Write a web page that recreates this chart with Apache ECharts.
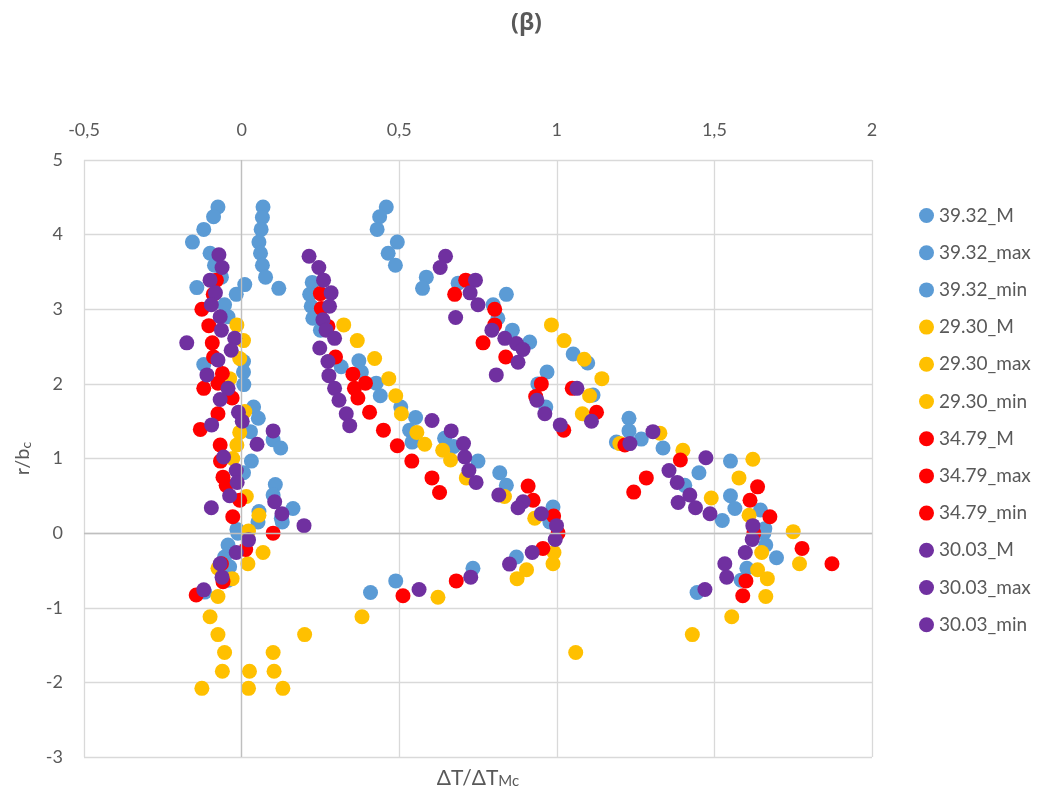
<!DOCTYPE html>
<html>
<head>
<meta charset="utf-8">
<script src="https://cdn.jsdelivr.net/npm/echarts@6/dist/echarts.min.js"></script>
<style>html,body{margin:0;padding:0;background:#fff}#c{width:1053px;height:798px}</style>
</head>
<body>
<div id="c"></div>
<script>
// ---- data: [ΔT/ΔT_Mc, r/b_c] pairs ----
const seriesNames = ['39.32_M','39.32_max','39.32_min','29.30_M','29.30_max','29.30_min','34.79_M','34.79_max','34.79_min','30.03_M','30.03_max','30.03_min'];

const blue_M = [[0.068,4.37],[0.066,4.23],[0.062,4.07],[0.055,3.90],[0.060,3.75],[0.066,3.59],[0.076,3.43],[0.118,3.28],
 [0.224,3.36],[0.216,3.20],[0.221,3.04],[0.226,2.88],[0.25,2.72],[0.316,2.23],[0.372,2.31],[0.38,2.16],[0.427,2.01],
 [0.44,1.84],[0.505,1.69],[0.552,1.55],[0.533,1.38],[0.541,1.22],[0.644,1.27],[0.673,1.16],[0.75,0.965],[0.819,0.81],
 [0.84,0.64],[0.988,0.35],[0.978,0.15],[0.872,-0.32],[0.734,-0.47],[0.489,-0.64],[0.409,-0.795]];
const blue_max = [[0.459,4.37],[0.438,4.24],[0.43,4.07],[0.494,3.90],[0.465,3.75],[0.488,3.59],[0.586,3.43],[0.574,3.28],
 [0.687,3.35],[0.798,3.06],[0.84,3.2],[0.813,2.88],[0.859,2.72],[0.914,2.56],[1.052,2.40],[1.098,2.28],[0.969,2.16],
 [0.94,2.0],[0.965,1.69],[1.115,1.85],[1.229,1.54],[1.229,1.37],[1.268,1.26],[1.189,1.22],[1.337,1.14],[1.551,0.965],
 [1.451,0.81],[1.406,0.64],[1.551,0.50],[1.565,0.33],[1.646,0.31],[1.525,0.17],[1.66,0.06],[1.657,0.0],[1.663,-0.16],
 [1.697,-0.33],[1.603,-0.47],[1.585,-0.63],[1.445,-0.795]];
const blue_min = [[-0.075,4.37],[-0.089,4.24],[-0.12,4.07],[-0.156,3.90],[-0.10,3.75],[-0.086,3.59],[-0.064,3.43],
 [-0.142,3.29],[-0.017,3.20],[0.010,3.33],[-0.054,3.06],[-0.043,2.90],[-0.12,2.26],[0.006,2.30],[0.006,2.16],[0.007,1.99],
 [0.038,1.69],[0.053,1.54],[0.028,1.36],[0.10,1.25],[0.124,1.14],[0.031,0.965],[0.006,0.81],[0.107,0.65],[0.10,0.51],
 [0.163,0.33],[0.055,0.29],[0.126,0.20],[0.052,0.15],[0.129,0.15],[-0.015,0.05],[-0.012,0.0],[-0.043,-0.16],
 [-0.054,-0.32],[-0.038,-0.45],[-0.043,-0.63],[-0.117,-0.79]];

const gold_M = [[0.324,2.79],[0.367,2.58],[0.422,2.34],[0.467,2.07],[0.489,1.84],[0.507,1.60],[0.556,1.35],[0.581,1.19],
 [0.638,1.11],[0.663,0.98],[0.713,0.74],[0.834,0.49],[0.93,0.2],[0.991,-0.26],[0.988,-0.41],[0.904,-0.49],[0.874,-0.61],
 [0.623,-0.86],[0.382,-1.12],[0.20,-1.36],[0.10,-1.60],[0.025,-1.85],[0.103,-1.85],[0.022,-2.08],[0.131,-2.08]];
const gold_max = [[0.983,2.79],[1.023,2.58],[1.087,2.33],[1.143,2.07],[1.104,1.84],[1.081,1.60],[1.2,1.20],[1.327,1.34],
 [1.40,1.11],[1.622,0.99],[1.578,0.74],[1.49,0.47],[1.61,0.24],[1.75,0.02],[1.65,-0.26],[1.77,-0.41],[1.637,-0.49],
 [1.668,-0.61],[1.663,-0.85],[1.555,-1.12],[1.43,-1.36],[1.06,-1.60]];
const gold_min = [[-0.015,2.79],[0.006,2.58],[-0.006,2.34],[-0.038,2.07],[0.01,1.63],[-0.006,1.35],[-0.015,1.18],
 [-0.028,1.0],[0.015,0.49],[0.055,0.24],[0.022,0.03],[0.068,-0.26],[0.02,-0.41],[-0.075,-0.47],[-0.03,-0.61],
 [-0.075,-0.85],[-0.10,-1.12],[-0.075,-1.36],[-0.054,-1.60],[-0.061,-1.85],[-0.126,-2.08]];

const red_M = [[0.25,3.21],[0.253,3.01],[0.274,2.77],[0.298,2.36],[0.353,2.13],[0.358,1.94],[0.393,2.01],[0.369,1.81],
 [0.406,1.62],[0.45,1.38],[0.494,1.17],[0.54,0.965],[0.604,0.74],[0.628,0.545],[0.909,0.63],[0.925,0.44],[0.99,0.23],
 [1.004,0.0],[0.956,-0.205],[0.681,-0.64],[0.512,-0.84]];
const red_max = [[0.711,3.39],[0.676,3.20],[0.803,3.0],[0.803,2.79],[0.766,2.55],[0.838,2.36],[1.049,1.94],[0.951,2.0],
 [0.933,1.83],[1.126,1.62],[1.022,1.38],[1.216,1.18],[1.392,0.98],[1.284,0.74],[1.244,0.55],[1.637,0.62],[1.613,0.44],
 [1.676,0.22],[1.625,0.0],[1.778,-0.205],[1.873,-0.41],[1.60,-0.64],[1.59,-0.84]];
const red_min = [[-0.08,3.39],[-0.09,3.2],[-0.126,3.0],[-0.104,2.78],[-0.093,2.55],[-0.089,2.36],[-0.061,2.14],
 [-0.12,1.94],[-0.075,2.01],[-0.03,1.81],[-0.075,1.60],[-0.131,1.39],[-0.068,1.18],[-0.067,0.965],[-0.059,0.75],
 [-0.049,0.64],[-0.006,0.44],[-0.028,0.22],[0.10,0.0],[0.013,-0.22],[-0.064,-0.41],[-0.059,-0.65],[-0.144,-0.83]];

const purple_M = [[0.214,3.71],[0.245,3.56],[0.26,3.39],[0.284,3.22],[0.279,3.04],[0.258,2.86],[0.268,2.72],[0.295,2.61],
 [0.248,2.48],[0.274,2.30],[0.277,2.11],[0.295,1.94],[0.309,1.78],[0.332,1.60],[0.343,1.44],[0.604,1.51],[0.665,1.37],
 [0.704,1.20],[0.708,1.02],[0.721,0.84],[0.744,0.68],[0.816,0.51],[0.893,0.42],[0.877,0.34],[0.951,0.26],[0.999,0.10],
 [0.995,-0.085],[0.922,-0.26],[0.85,-0.415],[0.727,-0.59],[0.563,-0.755]];
const purple_max = [[0.647,3.71],[0.63,3.56],[0.742,3.39],[0.725,3.22],[0.75,3.06],[0.679,2.89],[0.794,2.72],[0.835,2.61],
 [0.872,2.54],[0.893,2.46],[0.877,2.29],[0.808,2.12],[0.937,1.78],[0.962,1.60],[1.011,1.45],[1.064,1.94],[1.11,1.50],
 [1.232,1.20],[1.305,1.36],[1.473,1.01],[1.356,0.84],[1.382,0.68],[1.422,0.51],[1.385,0.41],[1.44,0.34],[1.486,0.26],
 [1.622,0.10],[1.62,-0.085],[1.598,-0.26],[1.533,-0.41],[1.539,-0.59],[1.47,-0.755]];
const purple_min = [[-0.072,3.73],[-0.062,3.56],[-0.10,3.39],[-0.083,3.22],[-0.096,3.06],[-0.068,2.90],[-0.064,2.72],
 [-0.022,2.61],[-0.033,2.45],[-0.174,2.55],[-0.075,2.32],[-0.11,2.12],[-0.043,1.94],[-0.068,1.79],[-0.01,1.62],
 [0.002,1.50],[-0.095,1.45],[0.10,1.37],[0.049,1.19],[-0.057,1.02],[-0.017,0.84],[-0.014,0.68],[-0.038,0.50],
 [-0.096,0.34],[0.105,0.42],[0.128,0.26],[0.198,0.10],[0.022,-0.09],[-0.017,-0.26],[-0.068,-0.41],[-0.062,-0.59],
 [-0.12,-0.76]];

const xTicks = {min: -0.5, max: 2, interval: 0.5};
const yTicks = {min: -3, max: 5, interval: 1};

const seriesData = [blue_M, blue_max, blue_min, gold_M, gold_max, gold_min, red_M, red_max, red_min, purple_M, purple_max, purple_min];
const colors = ['#5B9BD5','#5B9BD5','#5B9BD5','#FFC000','#FFC000','#FFC000','#FF0000','#FF0000','#FF0000','#7030A0','#7030A0','#7030A0'];

const FONT = 'Lato, "Open Sans", sans-serif';
const TXT = '#595959';
const fmt = v => String(v).replace('.', ',');

const series = seriesData.map((d, i) => ({
  name: seriesNames[i], type: 'scatter', data: d, symbol: 'circle', symbolSize: 15,
  itemStyle: {color: colors[i], opacity: 1}, emphasis: {disabled: true}
}));
series[0].markLine = {
  silent: true, symbol: 'none', animation: false, label: {show: false},
  lineStyle: {color: '#bfbfbf', width: 1.3, type: 'solid'},
  data: [{xAxis: 0}, {yAxis: 0}]
};

const chart = echarts.init(document.getElementById('c'), null, {renderer: 'canvas'});
chart.setOption({
  animation: false,
  backgroundColor: '#fff',
  title: {text: '(β)', left: 'center', top: 7,
    textStyle: {fontFamily: '"Open Sans", sans-serif', fontSize: 23, fontWeight: 'bold', color: TXT}},
  grid: {left: 84, right: 181, top: 160, bottom: 41, containLabel: false, outerBoundsMode: 'none'},
  legend: {
    orient: 'vertical', left: 914, top: 201, itemWidth: 15, itemHeight: 15, itemGap: 18.2,
    icon: 'circle', data: seriesNames,
    textStyle: {fontFamily: FONT, fontSize: 19, color: TXT, lineHeight: 18}
  },
  xAxis: [{
    type: 'value', position: 'top', min: xTicks.min, max: xTicks.max, interval: xTicks.interval,
    axisLine: {show: false}, axisTick: {show: false},
    axisLabel: {fontFamily: FONT, fontSize: 18, color: TXT, margin: 21, formatter: fmt},
    splitLine: {show: true, lineStyle: {color: '#d9d9d9', width: 1.3}}
  }, {
    type: 'value', position: 'bottom', min: xTicks.min, max: xTicks.max,
    axisLine: {show: false}, axisTick: {show: false}, axisLabel: {show: false}, splitLine: {show: false},
    name: '{a|ΔT/ΔT}{b|Mc}', nameLocation: 'middle', nameGap: 8,
    nameTextStyle: {
      rich: {
        a: {fontFamily: FONT, fontSize: 21, color: TXT, lineHeight: 24, verticalAlign: 'bottom'},
        b: {fontFamily: FONT, fontSize: 15, color: TXT, lineHeight: 24, verticalAlign: 'bottom'}
      }
    }
  }],
  yAxis: {
    type: 'value', min: yTicks.min, max: yTicks.max, interval: yTicks.interval,
    axisLine: {show: false}, axisTick: {show: false},
    axisLabel: {fontFamily: FONT, fontSize: 18, color: TXT, margin: 21, formatter: fmt},
    splitLine: {show: true, lineStyle: {color: '#d9d9d9', width: 1.3}},
    name: '{a|r/b}{b|c}', nameLocation: 'middle', nameGap: 51, nameRotate: 90,
    nameTextStyle: {
      rich: {
        a: {fontFamily: FONT, fontSize: 20, color: TXT, lineHeight: 24, verticalAlign: 'bottom'},
        b: {fontFamily: FONT, fontSize: 14, color: TXT, lineHeight: 24, verticalAlign: 'bottom'}
      }
    }
  },
  series: series
});
</script>
</body>
</html>
